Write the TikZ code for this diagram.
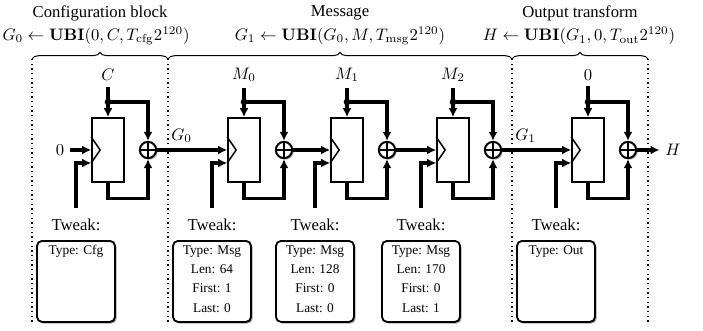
\documentclass[tikz,border=0pt]{standalone}
\usepackage[no-math]{fontspec}
\setmainfont{Liberation Serif}
\usepackage{amsmath}
\usetikzlibrary{arrows.meta,shadows,decorations.pathreplacing}

\begin{document}
\begin{tikzpicture}[x=0.6pt, y=-0.6pt,
    feed/.style={line width=1.9pt, -{Latex[length=5.4pt,width=5.4pt]}},
    ubi/.style={draw, line width=1pt, minimum width=19.2pt, minimum height=38.4pt, inner sep=0pt},
    chevron/.style={line width=0.9pt},
    xor/.style={circle, draw, line width=1.2pt, fill=white, minimum size=9.8pt, inner sep=0pt,
      drop shadow={shadow xshift=0.9pt, shadow yshift=-0.9pt, fill=black!60},
      path picture={\draw [line width=0.8pt] (path picture bounding box.north) -- (path picture bounding box.south)
        (path picture bounding box.west) -- (path picture bounding box.east);}},
    tweakbox/.style={draw, line width=1.1pt, rounded corners=3pt, fill=white, anchor=north,
      minimum width=46.8pt, minimum height=48.6pt,
      drop shadow={shadow xshift=1pt, shadow yshift=-1pt, fill=black!70}},
    tweaktext/.style={font=\footnotesize, align=center, anchor=north, inner sep=0pt},
    divider/.style={dotted, line width=0.8pt},
    brace/.style={decorate, decoration={brace, amplitude=4pt}, line width=0.6pt}]
    \useasboundingbox (0,0) rectangle (703,331);
    % Dividers and braces
    \coordinate (v1t) at (32,59);  \coordinate (v1b) at (32,322);
    \coordinate (v2t) at (168,59); \coordinate (v2b) at (168,322);
    \coordinate (v3t) at (512,59); \coordinate (v3b) at (512,322);
    \coordinate (v4t) at (648,59); \coordinate (v4b) at (648,322);
    \draw [divider] (v1t) -- (v1b);
    \draw [divider] (v2t) -- (v2b);
    \draw [divider] (v3t) -- (v3b);
    \draw [divider] (v4t) -- (v4b);
    \draw [brace] (v1t) -- (v2t);
    \draw [brace] (v2t) -- (v3t);
    \draw [brace] (v3t) -- (v4t);
    % Titles
    \node (cfgtitle) at (100,13) {Configuration block};
    \node (cfgubi)   at (96,36)  {$G_0 \leftarrow \mathbf{UBI}(0, C, T_{\mathrm{cfg}}2^{120})$};
    \node (msgtitle) at (340,13) {Message};
    \node (msgubi)   at (340,36) {$G_1 \leftarrow \mathbf{UBI}(G_0, M, T_{\mathrm{msg}}2^{120})$};
    \node (outtitle) at (580,13) {Output transform};
    \node (outubi)   at (579,36) {$H \leftarrow \mathbf{UBI}(G_1, 0, T_{\mathrm{out}}2^{120})$};
    % Block 1: configuration
    \node [ubi] (f1) at (108,150) {};
    \draw [chevron] (f1.west) ++(0,-13) -- ++(9,13) -- ++(-9,13);
    \node [xor] (x1) at (148,150) {};
    \node (c1) at (108,75) {$C$};
    \coordinate (d1) at (108,102);
    \node (z0) at (60,150) {$0$};
    \draw [feed] (c1) -- (f1.north);
    \fill (d1) circle (2pt);
    \draw [feed] (d1) -| (x1.north);
    \draw [feed] (f1.south) -- ++(0,16) -| (x1.south);
    \draw [feed] (z0) -- (f1.west);
    \node (tl1) at (76,225) {Tweak:};
    \draw [feed] ([yshift=3pt]tl1.north) |- ([yshift=-7.8pt]f1.west);
    \node [tweakbox] (tw1) at (76,240) {};
    \node [tweaktext] (tx1) at ([yshift=-3pt]tw1.north) {Type: Cfg};
    % Block 2: M_0
    \node [ubi] (f2) at (244,150) {};
    \draw [chevron] (f2.west) ++(0,-13) -- ++(9,13) -- ++(-9,13);
    \node [xor] (x2) at (284,150) {};
    \node (c2) at (244,75) {$M_0$};
    \coordinate (d2) at (244,102);
    \draw [feed] (c2) -- (f2.north);
    \fill (d2) circle (2pt);
    \draw [feed] (d2) -| (x2.north);
    \draw [feed] (f2.south) -- ++(0,16) -| (x2.south);
    \node (tl2) at (212,225) {Tweak:};
    \draw [feed] ([yshift=3pt]tl2.north) |- ([yshift=-7.8pt]f2.west);
    \node [tweakbox] (tw2) at (212,240) {};
    \node [tweaktext] (tx2) at ([yshift=-3pt]tw2.north) {Type: Msg\\[2.1pt] Len: 64\\[2.1pt] First: 1\\[2.1pt] Last: 0};
    % Block 3: M_1
    \node [ubi] (f3) at (347,150) {};
    \draw [chevron] (f3.west) ++(0,-13) -- ++(9,13) -- ++(-9,13);
    \node [xor] (x3) at (387,150) {};
    \node (c3) at (347,75) {$M_1$};
    \coordinate (d3) at (347,102);
    \draw [feed] (c3) -- (f3.north);
    \fill (d3) circle (2pt);
    \draw [feed] (d3) -| (x3.north);
    \draw [feed] (f3.south) -- ++(0,16) -| (x3.south);
    \node (tl3) at (315,225) {Tweak:};
    \draw [feed] ([yshift=3pt]tl3.north) |- ([yshift=-7.8pt]f3.west);
    \node [tweakbox] (tw3) at (315,240) {};
    \node [tweaktext] (tx3) at ([yshift=-3pt]tw3.north) {Type: Msg\\[2.1pt] Len: 128\\[2.1pt] First: 0\\[2.1pt] Last: 0};
    % Block 4: M_2
    \node [ubi] (f4) at (453,150) {};
    \draw [chevron] (f4.west) ++(0,-13) -- ++(9,13) -- ++(-9,13);
    \node [xor] (x4) at (493,150) {};
    \node (c4) at (453,75) {$M_2$};
    \coordinate (d4) at (453,102);
    \draw [feed] (c4) -- (f4.north);
    \fill (d4) circle (2pt);
    \draw [feed] (d4) -| (x4.north);
    \draw [feed] (f4.south) -- ++(0,16) -| (x4.south);
    \node (tl4) at (421,225) {Tweak:};
    \draw [feed] ([yshift=3pt]tl4.north) |- ([yshift=-7.8pt]f4.west);
    \node [tweakbox] (tw4) at (421,240) {};
    \node [tweaktext] (tx4) at ([yshift=-3pt]tw4.north) {Type: Msg\\[2.1pt] Len: 170\\[2.1pt] First: 0\\[2.1pt] Last: 1};
    % Block 5: output
    \node [ubi] (f5) at (588,150) {};
    \draw [chevron] (f5.west) ++(0,-13) -- ++(9,13) -- ++(-9,13);
    \node [xor] (x5) at (628,150) {};
    \node (c5) at (588,75) {$0$};
    \coordinate (d5) at (588,102);
    \draw [feed] (c5) -- (f5.north);
    \fill (d5) circle (2pt);
    \draw [feed] (d5) -| (x5.north);
    \draw [feed] (f5.south) -- ++(0,16) -| (x5.south);
    \node (tl5) at (556,225) {Tweak:};
    \draw [feed] ([yshift=3pt]tl5.north) |- ([yshift=-7.8pt]f5.west);
    \node [tweakbox] (tw5) at (556,240) {};
    \node [tweaktext] (tx5) at ([yshift=-3pt]tw5.north) {Type: Out};
    \node (h) at (673,150) {$H$};
    % Chaining
    \draw [feed] (x1) -- node (g0) [above, pos=0.35] {$G_0$} (f2.west);
    \draw [feed] (x2) -- (f3.west);
    \draw [feed] (x3) -- (f4.west);
    \draw [feed] (x4) -- node (g1) [above, pos=0.34] {$G_1$} (f5.west);
    \draw [feed] (x5) -- (h);
  \end{tikzpicture}
\end{document}
